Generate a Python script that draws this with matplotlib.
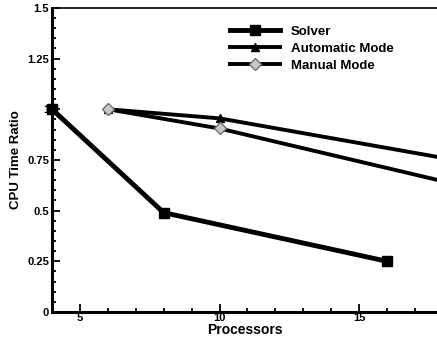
import matplotlib
matplotlib.use('Agg')
import matplotlib.pyplot as plt
from matplotlib.ticker import MultipleLocator

plt.rcParams['font.family'] = ['Liberation Sans', 'DejaVu Sans']
plt.rcParams['font.weight'] = 'bold'

# data
solver_x = [4, 8, 16]
solver_y = [1.0, 0.49, 0.25]
auto_x = [6, 10, 18]
auto_y = [1.0, 0.955, 0.76]
manual_x = [6, 10, 18]
manual_y = [1.0, 0.905, 0.645]

fig = plt.figure(figsize=(4.37, 3.41), dpi=100)
ax = fig.add_axes([0.119, 0.085, 0.885, 0.892])

ax.plot(solver_x, solver_y, color='k', lw=3.5, marker='s', ms=6.5,
        mfc='k', mec='k', label='Solver', clip_on=False, zorder=3)
ax.plot(auto_x, auto_y, color='k', lw=2.8, marker='^', ms=6,
        mfc='k', mec='k', label='Automatic Mode', zorder=3)
ax.plot(manual_x, manual_y, color='k', lw=2.8, marker='D', ms=6,
        mfc='#c8c8c8', mec='#707070', mew=1, label='Manual Mode', zorder=4)

ax.set_xlim(4, 17.85)
ax.set_ylim(0, 1.5)
ax.xaxis.set_major_locator(MultipleLocator(5))
ax.xaxis.set_minor_locator(MultipleLocator(1))
ax.yaxis.set_major_locator(MultipleLocator(0.25))
ax.yaxis.set_minor_locator(MultipleLocator(0.05))
ax.set_yticks([0, 0.25, 0.5, 0.75, 1, 1.25, 1.5])
ax.set_yticklabels(['0', '0.25', '0.5', '0.75', '1', '1.25', '1.5'])

ax.tick_params(which='both', direction='in', labelsize=8, width=1.3)
ax.tick_params(which='major', length=6)
ax.tick_params(which='minor', length=3)
ax.tick_params(axis='x', pad=1)
ax.tick_params(axis='y', pad=2)

ax.spines['left'].set_linewidth(2.2)
ax.spines['bottom'].set_linewidth(2.2)
ax.spines['top'].set_linewidth(1.2)
ax.spines['right'].set_visible(False)

ax.set_xlabel('Processors', fontsize=10, fontweight='bold', labelpad=-0.5)
ax.set_ylabel('CPU Time Ratio', fontsize=9.5, fontweight='bold', labelpad=4)

ax.legend(loc='upper left', bbox_to_anchor=(0.43, 0.98), frameon=False,
          fontsize=9.5, handlelength=3.8, labelspacing=0.35, handletextpad=0.8)

fig.savefig('out.png', dpi=100)
